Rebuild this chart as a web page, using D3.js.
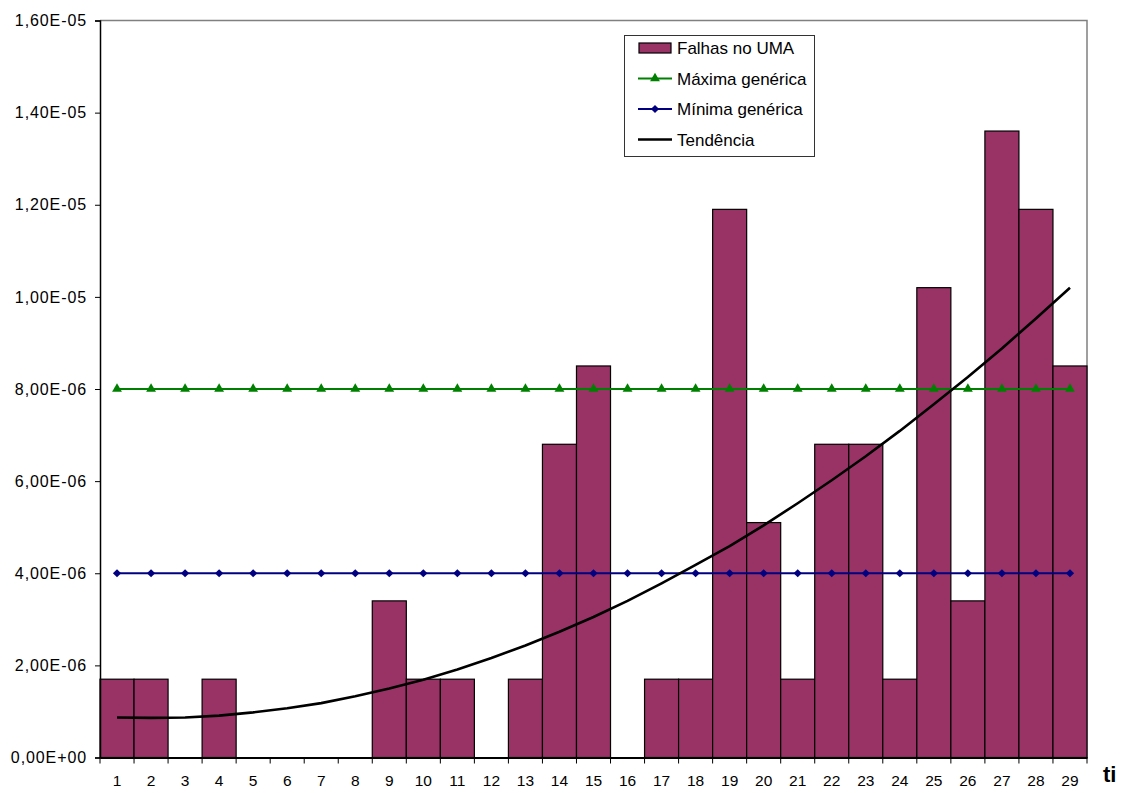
<!DOCTYPE html>
<html><head><meta charset="utf-8">
<script src="https://cdn.jsdelivr.net/npm/d3@7"></script>
<style>body{margin:0;background:#fff}svg{display:block}text{font-family:Arial,"Liberation Sans",sans-serif}</style>
</head><body>
<svg id="c" width="1121" height="793"></svg>
<script>
const categories = ["1","2","3","4","5","6","7","8","9","10","11","12","13","14","15","16","17","18","19","20","21","22","23","24","25","26","27","28","29"];
const falhas = [1.7e-6,1.7e-6,0,1.7e-6,0,0,0,0,3.4e-6,1.7e-6,1.7e-6,0,1.7e-6,6.8e-6,8.5e-6,0,1.7e-6,1.7e-6,11.9e-6,5.1e-6,1.7e-6,6.8e-6,6.8e-6,1.7e-6,10.2e-6,3.4e-6,13.6e-6,11.9e-6,8.5e-6];
const maxima = [8e-6,8e-6,8e-6,8e-6,8e-6,8e-6,8e-6,8e-6,8e-6,8e-6,8e-6,8e-6,8e-6,8e-6,8e-6,8e-6,8e-6,8e-6,8e-6,8e-6,8e-6,8e-6,8e-6,8e-6,8e-6,8e-6,8e-6,8e-6,8e-6];
const minima = [4e-6,4e-6,4e-6,4e-6,4e-6,4e-6,4e-6,4e-6,4e-6,4e-6,4e-6,4e-6,4e-6,4e-6,4e-6,4e-6,4e-6,4e-6,4e-6,4e-6,4e-6,4e-6,4e-6,4e-6,4e-6,4e-6,4e-6,4e-6,4e-6];
const tendencia = [0.87e-6,0.86e-6,0.87e-6,0.91e-6,0.98e-6,1.07e-6,1.18e-6,1.33e-6,1.50e-6,1.69e-6,1.91e-6,2.16e-6,2.43e-6,2.73e-6,3.05e-6,3.40e-6,3.78e-6,4.18e-6,4.59e-6,5.04e-6,5.52e-6,6.02e-6,6.54e-6,7.09e-6,7.67e-6,8.26e-6,8.88e-6,9.53e-6,10.2e-6];
const yTicks = [0,2e-6,4e-6,6e-6,8e-6,10e-6,12e-6,14e-6,16e-6];
const yTickLabels = ["0,00E+00","2,00E-06","4,00E-06","6,00E-06","8,00E-06","1,00E-05","1,20E-05","1,40E-05","1,60E-05"];
const legendLabels = ["Falhas no UMA","Máxima genérica","Mínima genérica","Tendência"];
const xTitle = "ti";

const L=100,R=1087,T=20.5,B=757.5;
const FONT="Arial,'Liberation Sans',sans-serif";
const svg=d3.select("#c");
const x=d3.scaleBand().domain(categories).range([L,R]).padding(0);
const y=d3.scaleLinear().domain([0,16e-6]).range([B,T]);
const cx=d=>x(d)+x.bandwidth()/2;

// plot border (top/right gray)
svg.append("path").attr("d",`M${L},${T}H${R}V${B}`).attr("fill","none").attr("stroke","#808080").attr("stroke-width",1.5);

// bars
svg.append("g").selectAll("rect").data(categories.map((c,i)=>({c,v:falhas[i]})).filter(d=>d.v>0))
 .join("rect").attr("x",d=>x(d.c)).attr("width",x.bandwidth()).attr("y",d=>y(d.v)).attr("height",d=>B-y(d.v))
 .attr("fill","#993366").attr("stroke","#000").attr("stroke-width",1.2);

// markers
const tri=d3.symbol().type(d3.symbolTriangle).size(42)();
const dia=d3.symbol().type(d3.symbolSquare).size(34)();
const line=d3.line().x(d=>cx(d.c)).y(d=>y(d.v));
function series(vals,color,path,rot){
  const data=categories.map((c,i)=>({c,v:vals[i]}));
  svg.append("path").datum(data).attr("d",line).attr("fill","none").attr("stroke",color).attr("stroke-width",2.2);
  svg.append("g").selectAll("path").data(data).join("path")
   .attr("d",path).attr("transform",d=>`translate(${cx(d.c)},${y(d.v)}) rotate(${rot})`).attr("fill",color);
}
series(maxima,"#008000",tri,0);
series(minima,"#000080",dia,45);
svg.append("path").datum(categories.map((c,i)=>({c,v:tendencia[i]}))).attr("d",line).attr("fill","none").attr("stroke","#000").attr("stroke-width",2.6).attr("stroke-linejoin","round");

// axes
const ya=svg.append("g").attr("transform",`translate(${L},0)`).call(d3.axisLeft(y).tickValues(yTicks).tickFormat((d,i)=>yTickLabels[i]).tickSize(5).tickPadding(8));
ya.attr("font-size",null).attr("font-family",null);
ya.select(".domain").attr("stroke","#000").attr("stroke-width",1.5);
ya.selectAll("text").style("font-size","16px").style("letter-spacing","0.9px").attr("fill","#000").style("font-family",FONT);
const xa=svg.append("g").attr("transform",`translate(0,${B})`).call(d3.axisBottom(x).tickSize(0).tickPadding(17));
xa.attr("font-size",null).attr("font-family",null);
xa.select(".domain").attr("stroke","#000").attr("stroke-width",2);
xa.selectAll("text").style("font-size","15.5px").attr("fill","#000").style("font-family",FONT);
// boundary ticks
svg.append("g").selectAll("line").data(d3.range(categories.length+1)).join("line")
 .attr("x1",i=>L+i*x.bandwidth()).attr("x2",i=>L+i*x.bandwidth()).attr("y1",B).attr("y2",B+6).attr("stroke","#000");
svg.append("text").attr("x",1103).attr("y",782).style("font-size","22px").attr("font-weight","bold").text(xTitle);

// legend
const lg=svg.append("g");
lg.append("rect").attr("x",624.5).attr("y",35.5).attr("width",190).attr("height",121).attr("fill","#fff").attr("stroke","#333").attr("stroke-width",1);
const rowY=[48,78.5,109,139.5];
lg.append("rect").attr("x",639).attr("y",rowY[0]-5).attr("width",32).attr("height",10).attr("fill","#993366").attr("stroke","#000").attr("stroke-width",1.2);
[[1,"#008000",tri,0],[2,"#000080",dia,45]].forEach(([i,c,p,r])=>{
  lg.append("line").attr("x1",638).attr("x2",672).attr("y1",rowY[i]).attr("y2",rowY[i]).attr("stroke",c).attr("stroke-width",2.2);
  lg.append("path").attr("d",p).attr("transform",`translate(655,${rowY[i]}) rotate(${r})`).attr("fill",c);
});
lg.append("line").attr("x1",638).attr("x2",672).attr("y1",rowY[3]).attr("y2",rowY[3]).attr("stroke","#000").attr("stroke-width",2.6);
lg.selectAll("text.l").data(legendLabels).join("text").attr("class","l").attr("x",677).attr("y",(d,i)=>rowY[i]+6).style("font-size","17px").text(d=>d);
</script>
</body></html>
